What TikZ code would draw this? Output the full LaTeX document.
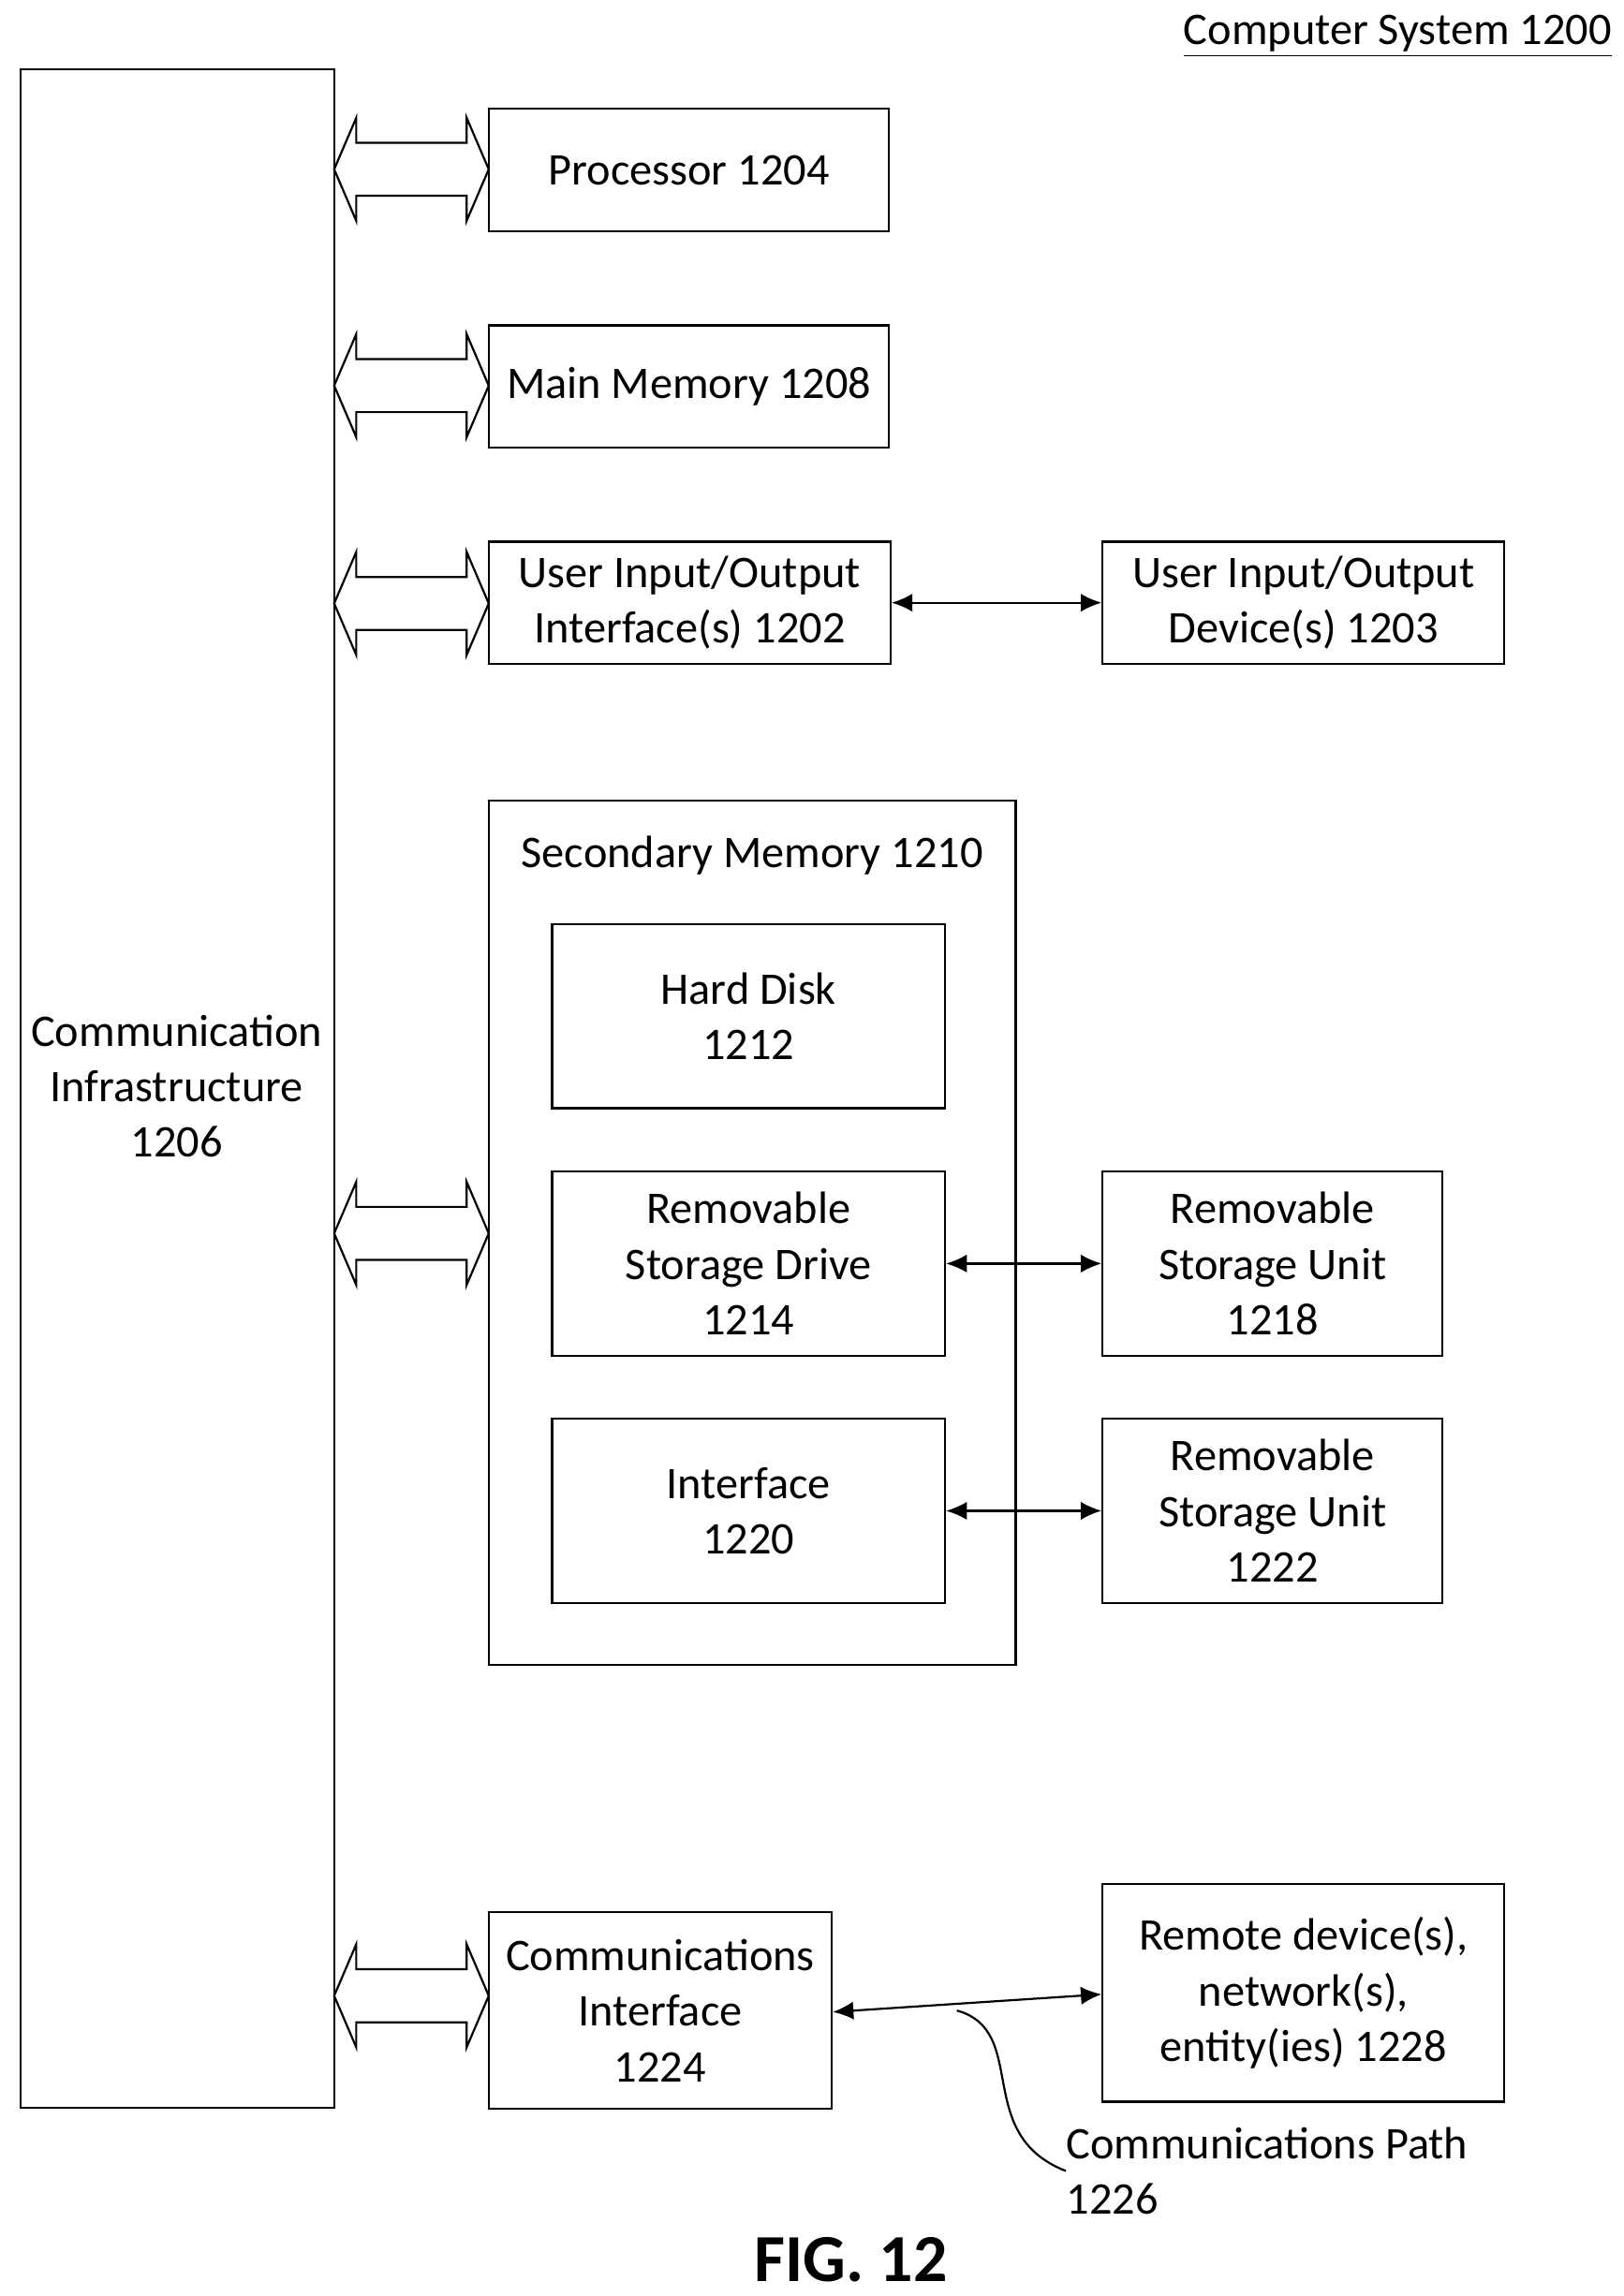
\documentclass[tikz,border=0pt]{standalone}
\usepackage{fontspec}
\setmainfont{Carlito}
\usetikzlibrary{positioning,arrows.meta}
\tikzset{>={Latex[length=8pt,width=7pt]}}
\begin{document}
\begin{tikzpicture}[x=0.02cm,y=-0.02cm,
    box/.style={draw, line width=0.8pt, align=center, inner sep=0pt, font=\fontsize{17.5}{21.5}\selectfont},
    txt/.style={align=center, inner sep=0pt, font=\fontsize{17.5}{21.5}\selectfont},
    bus/.pic={\draw[line width=0.8pt] (0,0) -- (15,-35) -- (15,-18) -- (90,-18) -- (90,-35) -- (105,0) -- (90,35) -- (90,18) -- (15,18) -- (15,35) -- cycle;}]
  \useasboundingbox (0,0) rectangle (1103,1560);
  \node[txt, anchor=north east] (title) at (1095,10) {\underline{Computer System 1200}};
  \node[box, minimum width=4.26cm, minimum height=27.7cm] (infra) at (120.5,739.5) {};
  \node[txt] (infratext) at (120,738) {Communication\\Infrastructure\\1206};
  \node[box, minimum width=5.44cm, minimum height=1.66cm] (proc) at (468,115.5) {Processor 1204};
  \node[box, minimum width=5.44cm, minimum height=1.66cm] (mem) at (468,262.5) {Main Memory 1208};
  \node[box, minimum width=5.46cm, minimum height=1.66cm] (uioi) at (468.5,409.5) {User Input/Output\\Interface(s) 1202};
  \node[box, minimum width=5.46cm, minimum height=1.66cm] (uiod) at (885.5,409.5) {User Input/Output\\Device(s) 1203};
  \node[box, minimum width=7.16cm, minimum height=11.74cm] (sec) at (511,837.5) {};
  \node[txt] (sectitle) at (511,581) {Secondary Memory 1210};
  \node[box, minimum width=5.34cm, minimum height=2.5cm] (hdd) at (508.5,690.5) {Hard Disk\\1212};
  \node[box, minimum width=5.34cm, minimum height=2.5cm] (rsd) at (508.5,858.5) {Removable\\Storage Drive\\1214};
  \node[box, minimum width=5.34cm, minimum height=2.5cm] (iface) at (508.5,1026.5) {Interface\\1220};
  \node[box, minimum width=4.62cm, minimum height=2.5cm] (rsu1) at (864.5,858.5) {Removable\\Storage Unit\\1218};
  \node[box, minimum width=4.62cm, minimum height=2.5cm] (rsu2) at (864.5,1026.5) {Removable\\Storage Unit\\1222};
  \node[box, minimum width=4.66cm, minimum height=2.68cm] (comm) at (448.5,1366) {Communications\\Interface\\1224};
  \node[box, minimum width=5.46cm, minimum height=2.96cm] (remote) at (885.5,1354) {Remote device(s),\\network(s),\\entity(ies) 1228};
  \node[txt, anchor=north west, align=left] (pathlabel) at (724,1445) {Communications Path\\1226};
  \node[txt, font=\fontsize{26}{30}\bfseries] (fig) at (578,1535) {FIG. 12};
  % bus connections
  \pic at (227,115) {bus};
  \pic at (227,262) {bus};
  \pic at (227,410) {bus};
  \pic at (227,838) {bus};
  \pic at (227,1356) {bus};
  \draw[<->, line width=0.8pt] (uioi) -- (uiod);
  \draw[<->, line width=0.8pt] (rsd) -- (rsu1);
  \draw[<->, line width=0.8pt] (iface) -- (rsu2);
  \draw[<->, line width=0.8pt] (comm.east |- 0,1367) -- (remote.west |- 0,1355);
  \coordinate (pathmid) at (650,1366);
  \draw[line width=0.8pt] (pathmid) .. controls (700,1380) and (660,1450) .. (pathlabel.west |- 0,1475);
\end{tikzpicture}
\end{document}
